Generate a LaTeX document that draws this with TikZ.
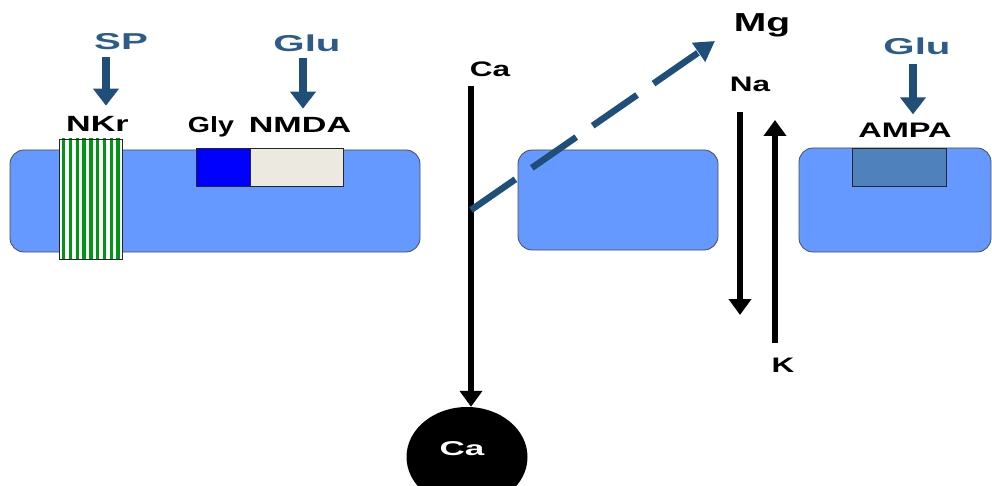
\documentclass[tikz,border=0pt]{standalone}
\usepackage{fontspec}
\setmainfont{Liberation Sans}
\newfontfamily\labelfont[FakeStretch=1.55]{Liberation Sans}
\newfontfamily\narrowlabelfont[FakeStretch=1.3]{Liberation Sans}
\newfontfamily\ligandfont[FakeStretch=1.75]{Liberation Sans}
\newfontfamily\ionfont[FakeStretch=1.5]{Liberation Sans}
\usetikzlibrary{
    positioning,
    arrows.meta,
    shapes.geometric
}
\definecolor{membraneblue}{RGB}{102,153,255}
\definecolor{arrowblue}{RGB}{31,78,121}
\definecolor{ligandblue}{RGB}{46,92,138}
\definecolor{stripegreen}{RGB}{0,150,20}
\definecolor{nmdagray}{RGB}{236,234,224}
\definecolor{ampablue}{RGB}{79,129,189}
\tikzset{%
    membrane/.style={%
        rectangle,
        draw=black!70,
        fill=membraneblue,
        rounded corners=14pt,
        line width=0.8pt,
        inner sep = 0pt,
        outer sep = 0pt
    },
    receptor/.style={%
        rectangle,
        draw=black!85,
        line width=0.8pt,
        inner sep = 0pt,
        outer sep = 0pt
    },
    receptor label/.style={%
        anchor=base,
        font=\fontsize{22}{22}\selectfont\labelfont\bfseries,
        inner sep = 1pt
    },
    ligand/.style={%
        anchor=base,
        font=\fontsize{23}{23}\selectfont\ligandfont\bfseries,
        text=ligandblue,
        inner sep = 1pt
    },
    ion/.style={%
        anchor=base,
        font=\fontsize{21}{21}\selectfont\ionfont\bfseries,
        inner sep = 1pt
    },
    ligand arrow/.style={%
        draw=arrowblue,
        line width=8pt,
        -{Triangle[width=25pt,length=17pt]}
    },
    ion arrow/.style={%
        draw=black,
        line width=6.5pt,
        -{Triangle[width=22pt,length=16pt]}
    },
}

\begin{document}
\begin{tikzpicture}[x=1pt, y=-1pt]
    \useasboundingbox (0,0) rectangle (992,486);

    % membrane pieces
    \node[membrane, minimum width=410pt, minimum height=102pt] (left membrane) at (215,201) {};
    \node[membrane, minimum width=200pt, minimum height=100pt] (middle membrane) at (618,200) {};
    \node[membrane, minimum width=192pt, minimum height=104pt] (right membrane) at (895,200) {};

    % receptors
    \node[receptor, minimum width=63pt, minimum height=120pt, fill=white,
        path picture={
            \foreach \i in {0,...,8}
                \fill[stripegreen] ([xshift=3pt+\i*6.8pt]path picture bounding box.south west) rectangle ++(3.4pt,130pt);
        }] (nkr) at (90.5,199) {};
    \node[receptor, minimum width=54pt, minimum height=38pt, fill=blue] (gly) at (223,167) {};
    \node[receptor, minimum width=93pt, minimum height=38pt, fill=nmdagray] (nmda) at (296.5,167) {};
    \node[receptor, minimum width=94pt, minimum height=38pt, fill=ampablue] (ampa) at (899,167) {};

    \node[receptor label] (nkr label) at (97.5,132) {NKr};
    \node[receptor label, font=\fontsize{22}{22}\selectfont\narrowlabelfont\bfseries] (gly label) at (211,133) {Gly};
    \node[receptor label] (nmda label) at (300,133) {NMDA};
    \node[receptor label, font=\fontsize{21}{21}\selectfont\labelfont\bfseries] (ampa label) at (905,138) {AMPA};

    % ligands
    \node[ligand] (sp) at (121,50) {SP};
    \node[ligand] (glu left) at (307,52) {Glu};
    \node[ligand] (glu right) at (917,55) {Glu};

    \coordinate (sp arrow) at (106,57);
    \coordinate (glu left arrow) at (303,58);
    \coordinate (glu right arrow) at (913,64);

    \draw[ligand arrow, shorten >=10pt] (sp arrow) -- (sp arrow |- nkr label.north);
    \draw[ligand arrow, shorten >=8pt] (glu left arrow) -- (glu left arrow |- nmda label.north);
    \draw[ligand arrow, shorten >=8pt] (glu right arrow) -- (glu right arrow |- ampa label.north);

    % ions
    \node[ion] (ca label) at (490,77) {Ca};
    \node[ellipse, fill=black, minimum width=121pt, minimum height=100pt] (ca ball) at (467,457) {};
    \node[ion, font=\fontsize{20}{20}\selectfont\ligandfont\bfseries, text=white] (ca ball label) at (462,455) {Ca};
    \node[ion, font=\fontsize{26}{26}\selectfont\ionfont\bfseries] (mg) at (762,32) {Mg};
    \node[ion] (na) at (750,92) {Na};
    \node[ion] (k) at (783,372) {K};

    \coordinate (ca top) at (471,86);
    \coordinate (mg start) at (471,210);
    \coordinate (mg end) at (715,41);
    \coordinate (na top) at (740,112);
    \coordinate (na end) at (740,315);
    \coordinate (k start) at (775,343);
    \coordinate (k end) at (775,120);

    \draw[ion arrow] (ca top) -- (ca top |- ca ball.north);
    \draw[draw=arrowblue, line width=6.5pt, dash pattern=on 54pt off 20pt,
        -{Triangle[width=22pt,length=20pt]}] (mg start) -- (mg end);
    \draw[ion arrow] (na top) -- (na end);
    \draw[ion arrow] (k start) -- (k end);
\end{tikzpicture}
\end{document}
